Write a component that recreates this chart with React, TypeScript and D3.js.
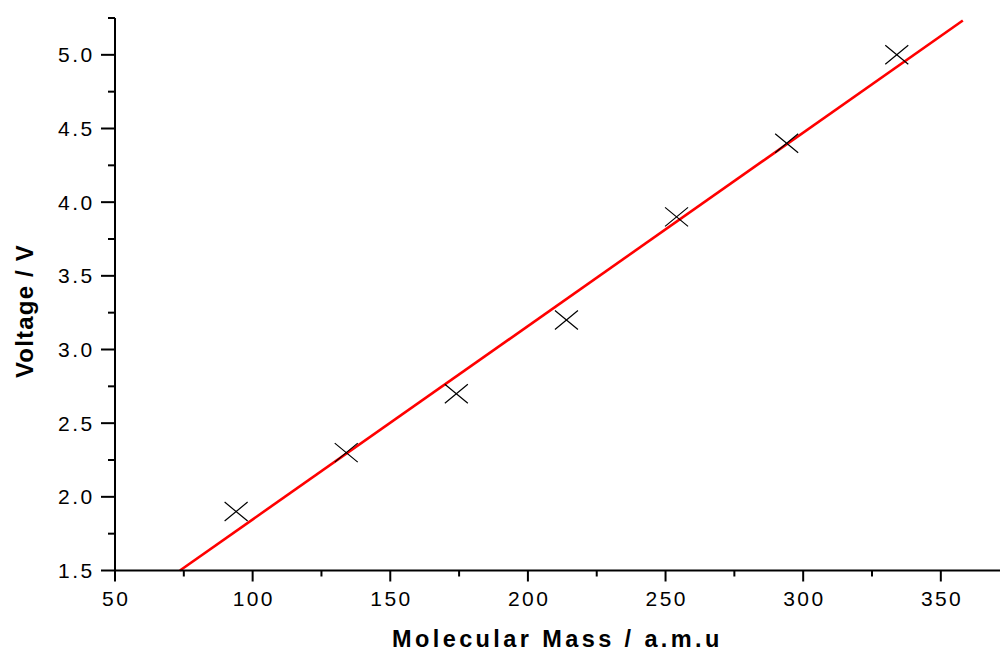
import React from "react";
import * as d3 from "d3";

const masses = [94, 134, 174, 214, 254, 294, 334];
const voltages = [1.9, 2.3, 2.7, 3.2, 3.9, 4.4, 5.0];
const xTicks = [50, 100, 150, 200, 250, 300, 350];
const xMinor = [75, 125, 175, 225, 275, 325];
const yTicks = [1.5, 2.0, 2.5, 3.0, 3.5, 4.0, 4.5, 5.0];
const yMinor = [1.75, 2.25, 2.75, 3.25, 3.75, 4.25, 4.75, 5.25];
const fitXEnd = 358;

const W = 1001;
const H = 653;
const left = 115;
const right = 1000;
const top = 18;
const bottom = 570.5;

export default function App() {
  const x = d3.scaleLinear().domain([50, 371.5]).range([left, right]);
  const y = d3.scaleLinear().domain([1.5, 5.25]).range([bottom, top]);

  const mx = d3.mean(masses)!;
  const my = d3.mean(voltages)!;
  const sxy = d3.sum(masses.map((m, i) => (m - mx) * (voltages[i] - my)));
  const sxx = d3.sum(masses.map((m) => (m - mx) * (m - mx)));
  const slope = sxy / sxx;
  const intercept = my - slope * mx;
  const fitXStart = (1.5 - intercept) / slope;
  const fitPts: [number, number][] = [
    [fitXStart, intercept + slope * fitXStart],
    [fitXEnd, intercept + slope * fitXEnd],
  ];
  const line = d3
    .line<[number, number]>()
    .x((d) => x(d[0]))
    .y((d) => y(d[1]));

  const font = "'Liberation Sans', Arial, Helvetica, sans-serif";
  const hw = 11.5;
  const hh = 9.5;

  return (
    <svg
      width={W}
      height={H}
      style={{ position: "absolute", left: 0, top: 0, background: "#fff" }}
      fontFamily={font}
    >
      <rect x={0} y={0} width={W} height={H} fill="#fff" />
      <path d={line(fitPts) || ""} stroke="#ff0000" strokeWidth={2.6} fill="none" />
      {masses.map((m, i) => {
        const cx = x(m);
        const cy = y(voltages[i]);
        return (
          <path
            key={i}
            d={`M${cx - hw},${cy - hh}L${cx + hw},${cy + hh}M${cx - hw},${cy + hh}L${cx + hw},${cy - hh}`}
            stroke="#000"
            strokeWidth={1.2}
            fill="none"
          />
        );
      })}
      <line x1={left} x2={left} y1={top} y2={bottom + 1} stroke="#000" strokeWidth={2} />
      <line x1={left - 1} x2={right} y1={bottom} y2={bottom} stroke="#000" strokeWidth={2} />
      {yTicks.map((t) => (
        <g key={"y" + t}>
          <line x1={left - 14} x2={left} y1={y(t)} y2={y(t)} stroke="#000" strokeWidth={2} />
          <text
            x={94.5}
            y={y(t)}
            dy="0.36em"
            textAnchor="end"
            fontSize={21}
            letterSpacing={2.4}
            fill="#000"
          >
            {t.toFixed(1)}
          </text>
        </g>
      ))}
      {yMinor.map((t) => (
        <line key={"ym" + t} x1={left - 7} x2={left} y1={y(t)} y2={y(t)} stroke="#000" strokeWidth={2} />
      ))}
      {xTicks.map((t) => (
        <g key={"x" + t}>
          <line x1={x(t)} x2={x(t)} y1={bottom} y2={bottom + 11} stroke="#000" strokeWidth={2} />
          <text
            x={x(t) + 1.2}
            y={605.5}
            textAnchor="middle"
            fontSize={21}
            letterSpacing={2.4}
            fill="#000"
          >
            {t}
          </text>
        </g>
      ))}
      {xMinor.map((t) => (
        <line key={"xm" + t} x1={x(t)} x2={x(t)} y1={bottom} y2={bottom + 6} stroke="#000" strokeWidth={2} />
      ))}
      <text
        x={392}
        y={647}
        fontSize={23.5}
        fontWeight="bold"
        letterSpacing={3.4}
        fill="#000"
      >
        Molecular Mass / a.m.u
      </text>
      <text
        transform="translate(33,311) rotate(-90)"
        textAnchor="middle"
        fontSize={24}
        fontWeight="bold"
        letterSpacing={1.2}
        fill="#000"
      >
        Voltage / V
      </text>
    </svg>
  );
}
